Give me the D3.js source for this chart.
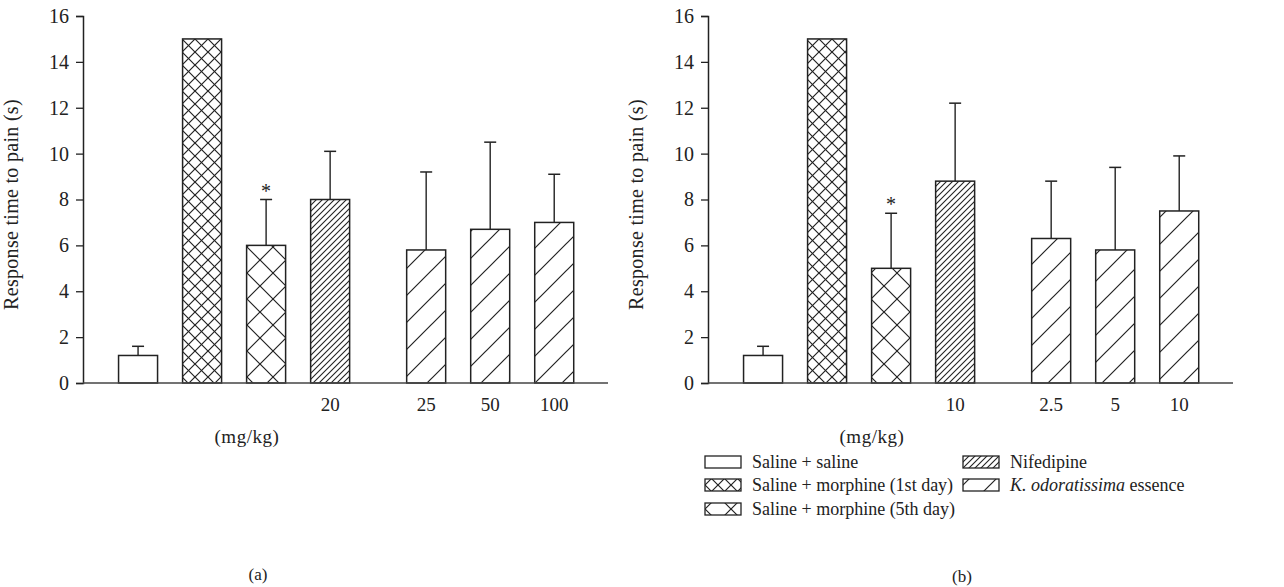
<!DOCTYPE html>
<html>
<head>
<meta charset="utf-8">
<script src="https://cdn.jsdelivr.net/npm/d3@7"></script>
<style>
  body { margin: 0; background: #fff; }
  text { font-family: "Liberation Serif", "DejaVu Serif", serif; fill: #222; }
</style>
</head>
<body>
<div id="chart"></div>
<script>
// ---- data ----
var groups = ["saline", "morph1", "morph5", "nif", "ko", "ko", "ko"];
var meansA = [1.2, 15, 6.0, 8.0, 5.8, 6.7, 7.0];
var errTopA = [1.6, null, 8.0, 10.1, 9.2, 10.5, 9.1];
var doseLabelsA = ["", "", "", "20", "25", "50", "100"];
var meansB = [1.2, 15, 5.0, 8.8, 6.3, 5.8, 7.5];
var errTopB = [1.6, null, 7.4, 12.2, 8.8, 9.4, 9.9];
var doseLabelsB = ["", "", "", "10", "2.5", "5", "10"];
var starredBar = 2;
var yTicks = [0, 2, 4, 6, 8, 10, 12, 14, 16];
var legendItems = [
  {key: "saline", label: "Saline + saline"},
  {key: "morph1", label: "Saline + morphine (1st day)"},
  {key: "morph5", label: "Saline + morphine (5th day)"},
  {key: "nif", label: "Nifedipine"},
  {key: "ko", label: "essence", italic: "K. odoratissima"}
];

var width = 1284, height = 587;
var ink = "#222";

var svg = d3.select("#chart").append("svg")
  .attr("width", width)
  .attr("height", height);

// hatch patterns
var defs = svg.append("defs");
function hatch(id, size, dirs, sw) {
  var p = defs.append("pattern")
    .attr("id", id)
    .attr("patternUnits", "userSpaceOnUse")
    .attr("width", size).attr("height", size);
  p.append("rect").attr("width", size).attr("height", size).attr("fill", "#fff");
  dirs.forEach(function(dir) {
    var d = dir == "/" ?
      "M0," + size + "L" + size + ",0M" + (-size) + "," + size + "L" + size + "," + (-size) + "M0," + (2 * size) + "L" + (2 * size) + ",0" :
      "M0,0L" + size + "," + size + "M" + (-size) + ",0L" + size + "," + (2 * size) + "M0," + (-size) + "L" + (2 * size) + "," + size;
    p.append("path").attr("d", d).attr("stroke", ink).attr("stroke-width", sw).attr("fill", "none");
  });
}
hatch("pat-morph1", 13, ["/", "\\"], 1.2);
hatch("pat-morph5", 26, ["/", "\\"], 1.2);
hatch("pat-nif", 6, ["/"], 1.1);
hatch("pat-ko", 27, ["/"], 1.2);

var fills = {
  saline: "#fff",
  morph1: "url(#pat-morph1)",
  morph5: "url(#pat-morph5)",
  nif: "url(#pat-nif)",
  ko: "url(#pat-ko)"
};

// slot index: extra half-slot gap when entering the essence group
var slots = [];
var s = 0;
groups.forEach(function(g, i) {
  if (i > 0 && g == "ko" && groups[i - 1] != "ko") s += 0.5;
  slots.push(s);
  s += 1;
});

var y = d3.scaleLinear().domain([0, 16]).range([383, 16]);

function panel(left, means, errs, doses) {
  var axisLen = 525;
  var x = d3.scaleLinear().domain([-0.86, 7.34]).range([left, left + axisLen]);
  var bw = 39;
  var g = svg.append("g");

  var yAxis = d3.axisLeft(y).tickValues(yTicks).tickSize(7).tickPadding(7).tickFormat(d3.format("d"));
  var ya = g.append("g").attr("transform", "translate(" + left + ",0)").call(yAxis);
  ya.select(".domain").attr("stroke", ink).attr("stroke-width", 1.5);
  ya.selectAll(".tick line").attr("stroke", ink).attr("stroke-width", 1.3);
  ya.selectAll(".tick text").style("font-size", "20px").attr("fill", "#222")
    .style("font-family", '"Liberation Serif", serif');

  g.append("text")
    .attr("transform", "translate(" + (left - 65) + "," + (y(8) + 5) + ") rotate(-90)")
    .attr("text-anchor", "middle")
    .style("font-size", "20px")
    .style("letter-spacing", "0.3px")
    .text("Response time to pain (s)");

  var data = means.map(function(m, i) {
    return {v: m, e: errs[i], g: groups[i], slot: slots[i], dose: doses[i], i: i};
  });

  // error bars (drawn under bars)
  var eb = g.selectAll(".err").data(data.filter(function(d) { return d.e != null; }))
    .enter().append("g").attr("class", "err");
  eb.append("line")
    .attr("x1", function(d) { return x(d.slot); }).attr("x2", function(d) { return x(d.slot); })
    .attr("y1", function(d) { return y(d.v); }).attr("y2", function(d) { return y(d.e); })
    .attr("stroke", ink).attr("stroke-width", 1.4);
  eb.append("line")
    .attr("x1", function(d) { return x(d.slot) - 6; }).attr("x2", function(d) { return x(d.slot) + 6; })
    .attr("y1", function(d) { return y(d.e); }).attr("y2", function(d) { return y(d.e); })
    .attr("stroke", ink).attr("stroke-width", 1.5);

  g.selectAll(".bar").data(data).enter().append("rect")
    .attr("class", "bar")
    .attr("x", function(d) { return x(d.slot) - bw / 2; })
    .attr("y", function(d) { return y(d.v); })
    .attr("width", bw)
    .attr("height", function(d) { return y(0) - y(d.v); })
    .attr("fill", function(d) { return fills[d.g]; })
    .attr("stroke", ink).attr("stroke-width", 1.5);

  var st = data[starredBar];
  g.append("text")
    .attr("x", x(st.slot)).attr("y", y(st.e) - 2)
    .attr("text-anchor", "middle")
    .style("font-size", "20px")
    .text("*");

  // x axis line
  g.append("line")
    .attr("x1", left).attr("x2", left + axisLen)
    .attr("y1", y(0)).attr("y2", y(0))
    .attr("stroke", "#444").attr("stroke-width", 1.7);

  g.selectAll(".dose").data(data).enter().append("text")
    .attr("x", function(d) { return x(d.slot); })
    .attr("y", 411)
    .attr("text-anchor", "middle")
    .style("font-size", "19px")
    .text(function(d) { return d.dose; });

  g.append("text")
    .attr("x", x(1.7))
    .attr("y", 443)
    .attr("text-anchor", "middle")
    .style("font-size", "19px")
    .style("letter-spacing", "0.5px")
    .text("(mg/kg)");
}

panel(83, meansA, errTopA, doseLabelsA);
panel(708, meansB, errTopB, doseLabelsB);

// legend
var legPos = [[705, 462], [705, 485], [705, 509], [963, 462], [963, 485]];
var leg = svg.append("g").selectAll("g").data(legendItems).enter().append("g")
  .attr("transform", function(d, i) { return "translate(" + legPos[i][0] + "," + legPos[i][1] + ")"; });
leg.append("rect")
  .attr("x", 0).attr("y", -6).attr("width", 36).attr("height", 12)
  .attr("fill", function(d) { return fills[d.key]; })
  .attr("stroke", ink).attr("stroke-width", 1.3);
var lt = leg.append("text")
  .attr("x", 47).attr("y", 6)
  .style("font-size", "18px");
lt.filter(function(d) { return d.italic; }).append("tspan")
  .style("font-style", "italic").text(function(d) { return d.italic + " "; });
lt.append("tspan").text(function(d) { return d.label; });

svg.append("text").attr("x", 258).attr("y", 580).attr("text-anchor", "middle")
  .style("font-size", "17px").text("(a)");
svg.append("text").attr("x", 962).attr("y", 582).attr("text-anchor", "middle")
  .style("font-size", "17px").text("(b)");
</script>
</body>
</html>
